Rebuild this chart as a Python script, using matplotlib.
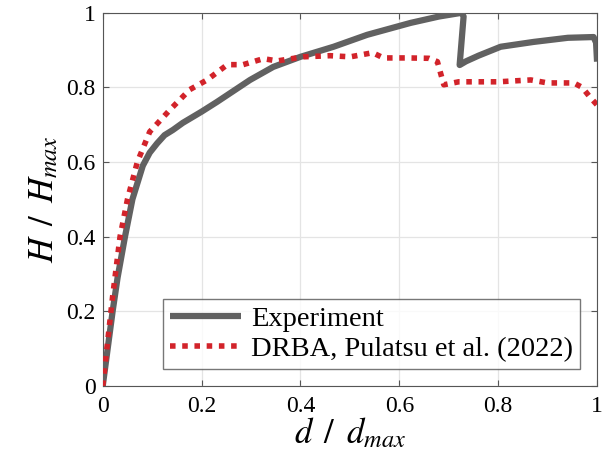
import matplotlib
matplotlib.use("Agg")
import matplotlib.pyplot as plt

plt.rcParams['font.family'] = ['Liberation Serif', 'DejaVu Serif']
plt.rcParams['mathtext.fontset'] = 'stix'

# Experiment curve (d/dmax, H/Hmax)
exp_x = [0.0, 0.01, 0.02, 0.03, 0.045, 0.06, 0.081, 0.095, 0.11, 0.125, 0.142, 0.162, 0.20,
         0.231, 0.298, 0.345, 0.40, 0.467, 0.535, 0.623, 0.68, 0.726, 0.730, 0.722, 0.735,
         0.76, 0.805, 0.872, 0.941, 0.993, 0.998, 1.0]
exp_y = [0.0, 0.10, 0.20, 0.29, 0.40, 0.50, 0.59, 0.625, 0.65, 0.672, 0.686, 0.705, 0.735,
         0.761, 0.820, 0.855, 0.882, 0.909, 0.941, 0.973, 0.99, 1.0, 0.99, 0.86, 0.87,
         0.885, 0.909, 0.922, 0.933, 0.935, 0.92, 0.869]

# DRBA, Pulatsu et al. (2022)
drba_x = [0.0, 0.01, 0.02, 0.035, 0.05, 0.07, 0.095, 0.136, 0.176, 0.211, 0.252, 0.284,
          0.325, 0.353, 0.406, 0.460, 0.501, 0.546, 0.568, 0.617, 0.66, 0.677, 0.690,
          0.72, 0.80, 0.866, 0.90, 0.953, 0.97, 0.985, 1.0]
drba_y = [0.0, 0.12, 0.24, 0.40, 0.50, 0.60, 0.681, 0.740, 0.794, 0.820, 0.861, 0.861,
          0.877, 0.871, 0.882, 0.885, 0.882, 0.893, 0.879, 0.879, 0.878, 0.869, 0.807,
          0.815, 0.815, 0.820, 0.812, 0.812, 0.80, 0.775, 0.753]

fig = plt.figure(figsize=(6.08, 4.74), dpi=100)
ax = fig.add_axes([0.169, 0.186, 0.813, 0.787])

ax.plot(exp_x, exp_y, color='#616161', lw=4.5, solid_capstyle='butt', label='Experiment', zorder=3)
ax.plot(drba_x, drba_y, color='#d2232a', lw=4, linestyle=(0, (1, 1.2)),
        label='DRBA, Pulatsu et al. (2022)', zorder=4)

ax.set_xlim(0, 1)
ax.set_ylim(0, 1)
ax.set_xticks([0, 0.2, 0.4, 0.6, 0.8, 1])
ax.set_xticklabels(['0', '0.2', '0.4', '0.6', '0.8', '1'])
ax.set_yticks([0, 0.2, 0.4, 0.6, 0.8, 1])
ax.set_yticklabels(['0', '0.2', '0.4', '0.6', '0.8', '1'])
ax.tick_params(direction='in', top=True, right=True, labelsize=17, length=4, color='#555555')
ax.tick_params(axis='x', pad=7)
ax.tick_params(axis='y', pad=5)
for s in ax.spines.values():
    s.set_color('#555555')
ax.grid(True, color='#e4e4e4', lw=0.9)
ax.set_axisbelow(True)

ax.set_xlabel(r'$d\ \,/\ \,d_{max}$', fontsize=25, labelpad=0)
ax.set_ylabel(r'$H\ \,/\ \,H_{max}$', fontsize=25, labelpad=4)

leg = ax.legend(loc='lower right', bbox_to_anchor=(0.966, 0.045), fontsize=20.5,
                frameon=True, fancybox=False, edgecolor='#555555', handlelength=2.5,
                borderpad=0.25, labelspacing=0.15, handletextpad=0.35, borderaxespad=0)
leg.get_frame().set_linewidth(1.0)

fig.savefig('out.png', dpi=100)
